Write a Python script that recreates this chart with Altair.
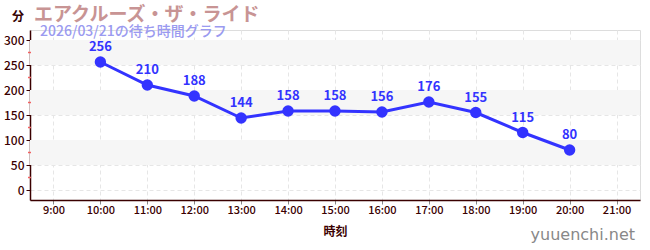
import altair as alt
import pandas as pd

hours = [10, 11, 12, 13, 14, 15, 16, 17, 18, 19, 20]
waits = [256, 210, 188, 144, 158, 158, 156, 176, 155, 115, 80]
band_lo = [50, 150, 250]
band_hi = [100, 200, 300]
minor_ticks = [25, 75, 125, 175, 225, 275]
hour_ticks = list(range(9, 22))
y_ticks = [0, 50, 100, 150, 200, 250, 300]

title = "エアクルーズ・ザ・ライド"
subtitle = "2026/03/21の待ち時間グラフ"

df = pd.DataFrame({"hour": hours, "wait": waits})
bands = pd.DataFrame({"lo": band_lo, "hi": band_hi})
minors = pd.DataFrame({"v": minor_ticks})

FONT = "Noto Sans CJK JP"
AX = "#3a0000"
BLUE = "#3333ff"

xs = alt.Scale(domain=[8.5, 21.5], nice=False, zero=False)
ys = alt.Scale(domain=[-20, 320], nice=False, zero=False)

xaxis = alt.Axis(values=hour_ticks, labelExpr="datum.value + ':00'", title="時刻",
                 titleFont=FONT, titleFontSize=12, titleFontWeight="bold", titleColor=AX,
                 titlePadding=11, labelFont=FONT, labelFontSize=11, labelFontWeight=500,
                 labelColor=AX, labelOverlap=False,
                 domainColor=AX, domainWidth=1.5, tickColor="#888888", tickSize=4,
                 grid=True, gridColor="#e6e6e6", gridDash=[4, 3], labelPadding=0)
yaxis = alt.Axis(values=y_ticks, title=None, labelFont=FONT, labelFontSize=12,
                 labelFontWeight=500, labelOverlap=False, labelBound=False,
                 labelColor=AX, domainColor=AX, domainWidth=1.5, tickColor=AX,
                 tickSize=4, grid=True, gridColor="#e6e6e6", gridDash=[4, 3],
                 labelPadding=2)

band = alt.Chart(bands).mark_rect(color="#f6f6f6").encode(
    y=alt.Y("lo:Q", scale=ys, axis=yaxis),
    y2="hi:Q",
    x=alt.value(0), x2=alt.value(610),
)

minor = alt.Chart(minors).mark_rule(color="#f06060", strokeWidth=1.5).encode(
    y=alt.Y("v:Q", scale=ys, axis=yaxis),
    x=alt.value(-2), x2=alt.value(1),
)

line = alt.Chart(df).mark_line(color=BLUE, strokeWidth=3).encode(
    x=alt.X("hour:Q", scale=xs, axis=xaxis),
    y=alt.Y("wait:Q", scale=ys, axis=yaxis),
)
pts = alt.Chart(df).mark_circle(color=BLUE, opacity=1, size=130).encode(
    x=alt.X("hour:Q", scale=xs, axis=xaxis),
    y=alt.Y("wait:Q", scale=ys, axis=yaxis),
)
lbl = alt.Chart(df).mark_text(color=BLUE, font=FONT, fontSize=13, fontWeight="bold",
                              dy=-15).encode(
    x=alt.X("hour:Q", scale=xs, axis=xaxis),
    y=alt.Y("wait:Q", scale=ys, axis=yaxis),
    text="wait:Q",
)

tdf = pd.DataFrame({"t": [title]})
t1 = alt.Chart(tdf).mark_text(font=FONT, fontSize=19, fontWeight="bold", color="#c89494",
                              align="left", baseline="middle").encode(
    x=alt.value(4), y=alt.value(-15), text="t:N")
sdf = pd.DataFrame({"t": [subtitle]})
t2 = alt.Chart(sdf).mark_text(font=FONT, fontSize=14, fontWeight=500, color="#9a9af0",
                              align="left", baseline="middle").encode(
    x=alt.value(10), y=alt.value(2), text="t:N")
udf = pd.DataFrame({"t": ["分"]})
t3 = alt.Chart(udf).mark_text(font=FONT, fontSize=12, fontWeight="bold", color="#330000",
                              align="center", baseline="middle").encode(
    x=alt.value(-12), y=alt.value(-13), text="t:N")
wdf = pd.DataFrame({"t": ["yuuenchi.net"]})
t4 = alt.Chart(wdf).mark_text(font="DejaVu Sans", fontSize=16, color="#888888",
                              align="right", baseline="middle").encode(
    x=alt.value(605), y=alt.value(35 + 170), text="t:N")

chart = alt.layer(band, minor, line, pts, lbl, t1, t2, t3, t4).properties(
    width=610, height=170,
    autosize=alt.AutoSizeParams(type="none"),
    padding={"left": 30, "top": 30, "right": 10, "bottom": 50},
).configure_view(stroke=None).configure(background="white")

chart.save("out.html", embed_options={"renderer": "svg", "actions": False})
